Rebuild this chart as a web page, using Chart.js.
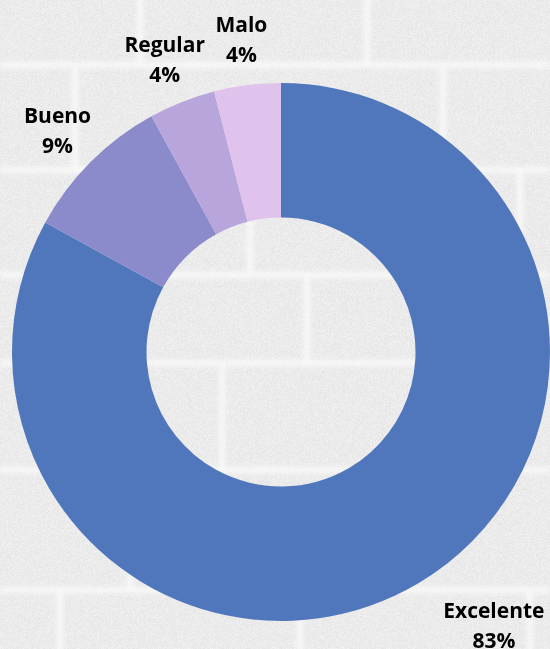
<!DOCTYPE html>
<html lang="es">
<head>
<meta charset="utf-8">
<title>Valoración</title>
<script src="https://cdn.jsdelivr.net/npm/chart.js@4/dist/chart.umd.min.js"></script>
<style>
  html, body { margin: 0; padding: 0; background: #ececec; overflow: hidden; }
  #wrap { position: relative; width: 550px; height: 649px; }
</style>
</head>
<body>
<div id="wrap"><canvas id="chartDonut"></canvas></div>
<script>
// Datos de la encuesta
const categorias = ['Excelente', 'Bueno', 'Regular', 'Malo'];
const porcentajes = [83, 9, 4, 4];
const colores = ['#5077bc', '#8b8bcb', '#b8a5db', '#dfc3ec'];

// Pared de ladrillos de fondo (filas: [y inicio, y fin, juntas verticales])
const filasLadrillo = [
  [-40, 65, [140, 367]],
  [65, 170, [75, 443]],
  [170, 275, [250, 520]],
  [275, 363, [100, 307]],
  [363, 470, [222, 480]],
  [470, 590, [130, 390]],
  [590, 700, [60, 300, 530]]
];

let texturaPared = null;

function crearTextura(width, height) {
  const c = document.createElement('canvas');
  c.width = width;
  c.height = height;
  const g = c.getContext('2d');
  const img = g.createImageData(width, height);
  for (let y = 0; y < height; y++) {
    for (let x = 0; x < width; x++) {
      const h = Math.sin(x * 12.9898 + y * 78.233) * 43758.5453;
      const t = h - Math.floor(h);
      const v = 235 + Math.round((t - 0.5) * 12);
      const k = (y * width + x) * 4;
      img.data[k] = v;
      img.data[k + 1] = v;
      img.data[k + 2] = v;
      img.data[k + 3] = 255;
    }
  }
  g.putImageData(img, 0, 0);
  g.filter = 'blur(2.5px)';
  g.strokeStyle = 'rgba(250,250,250,0.9)';
  g.lineWidth = 6;
  filasLadrillo.forEach(([y0, y1, juntas]) => {
    g.beginPath();
    g.moveTo(0, y1);
    g.lineTo(width, y1);
    juntas.forEach(x => {
      g.moveTo(x, y0);
      g.lineTo(x, y1);
    });
    g.stroke();
  });
  return c;
}

const fondoLadrillos = {
  id: 'fondoLadrillos',
  beforeDraw(chart) {
    const { ctx, width, height } = chart;
    if (!texturaPared || texturaPared.width !== width || texturaPared.height !== height) {
      texturaPared = crearTextura(width, height);
    }
    ctx.save();
    ctx.drawImage(texturaPared, 0, 0);
    ctx.restore();
  }
};

// Etiquetas "Nombre / NN%" fuera del anillo
const etiquetasExternas = {
  id: 'etiquetasExternas',
  afterDatasetsDraw(chart, args, opts) {
    const { ctx } = chart;
    const meta = chart.getDatasetMeta(0);
    ctx.save();
    ctx.font = 'bold 21px "Open Sans", sans-serif';
    ctx.fillStyle = '#000000';
    ctx.textAlign = 'center';
    ctx.textBaseline = 'middle';
    meta.data.forEach((arc, i) => {
      const { x, y, startAngle, endAngle, outerRadius } = arc.getProps(['x', 'y', 'startAngle', 'endAngle', 'outerRadius'], true);
      const mid = (startAngle + endAngle) / 2;
      const d = outerRadius + opts.distancia;
      const ajuste = opts.ajustes[i] || [0, 0];
      const lx = x + Math.cos(mid) * d + ajuste[0];
      const ly = y + Math.sin(mid) * d + ajuste[1];
      const valor = chart.data.datasets[0].data[i];
      ctx.fillText(chart.data.labels[i], lx, ly - opts.interlineado / 2);
      ctx.fillText(valor + '%', lx, ly + opts.interlineado / 2);
    });
    ctx.restore();
  }
};

const ctx = document.getElementById('chartDonut');

new Chart(ctx, {
  type: 'doughnut',
  data: {
    labels: categorias,
    datasets: [{
      data: porcentajes,
      backgroundColor: colores,
      borderWidth: 0,
      hoverOffset: 0
    }]
  },
  options: {
    responsive: true,
    maintainAspectRatio: false,
    animation: false,
    radius: 269,
    cutout: '50%',
    layout: { padding: { left: 12, right: 0, top: 55, bottom: 0 } },
    plugins: {
      legend: { display: false },
      tooltip: { enabled: false },
      etiquetasExternas: {
        distancia: 47,
        interlineado: 30,
        ajustes: [[52, 3], [0, 3], [0, 3], [0, 3]]
      }
    }
  },
  plugins: [fondoLadrillos, etiquetasExternas]
});
</script>
</body>
</html>
